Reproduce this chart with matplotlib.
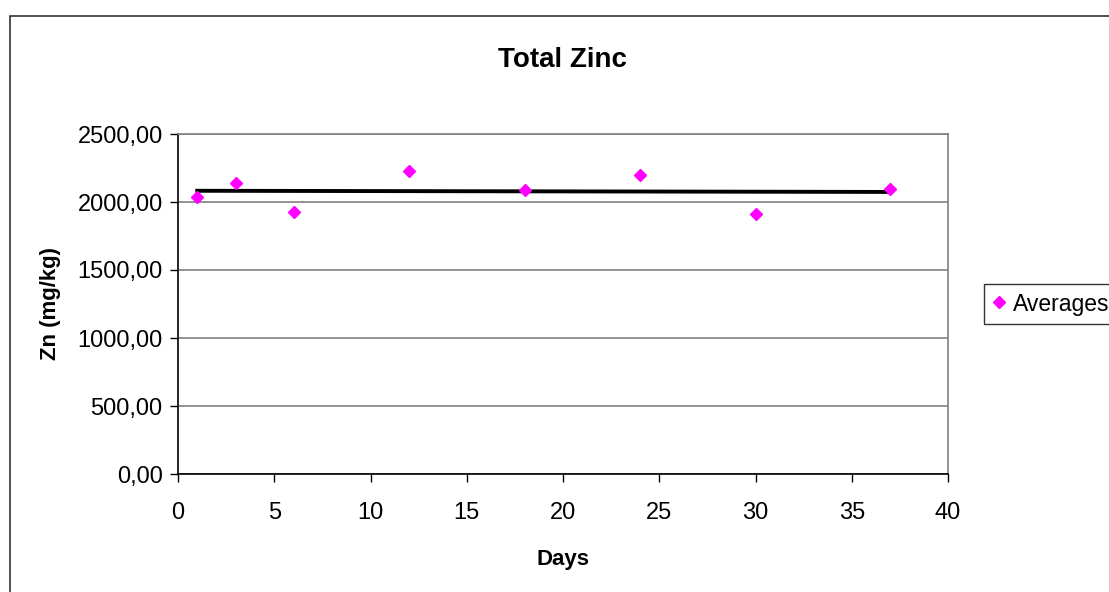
import numpy as np
import matplotlib
matplotlib.use('Agg')
from matplotlib import pyplot as plt
from matplotlib.patches import Rectangle
from matplotlib.ticker import FuncFormatter

plt.rcParams['font.family'] = ['Liberation Sans', 'DejaVu Sans']

# data
days = [1, 3, 6, 12, 18, 24, 30, 37]
averages = [2040, 2143, 1926, 2229, 2086, 2197, 1911, 2099]
x_ticks = [0, 5, 10, 15, 20, 25, 30, 35, 40]
y_ticks = [0, 500, 1000, 1500, 2000, 2500]

fig = plt.figure(figsize=(11.09, 5.92), dpi=100)
ax = fig.add_axes([178 / 1109, 1 - 474 / 592, 770 / 1109, 340 / 592])

# outer chart frame (cut off at right and bottom)
fig.patches.append(Rectangle((9.5 / 1109, -0.1), 1.2, 1.1 - 15.5 / 592,
                             transform=fig.transFigure, fill=False,
                             edgecolor='#333333', lw=1.2))

ax.plot(days, averages, linestyle='none', marker='D', markersize=6.5,
        color='#ff00ff', label='Averages', zorder=3)

# linear trend line
k, b = np.polyfit(days, averages, 1)
xs = np.array([days[0], days[-1]])
ax.plot(xs, k * xs + b, color='black', lw=2.8, zorder=2)

ax.set_xlim(0, 40)
ax.set_ylim(0, 2500)
ax.set_xticks(x_ticks)
ax.set_yticks(y_ticks)
ax.yaxis.set_major_formatter(FuncFormatter(lambda v, p: f'{v:.2f}'.replace('.', ',')))
ax.tick_params(direction='out', length=6, width=1, labelsize=17)
ax.tick_params(axis='x', pad=14)
ax.tick_params(axis='y', pad=5)
ax.grid(axis='y', color='#808080', lw=1.2)
ax.set_axisbelow(True)

for s in ['top', 'right']:
    ax.spines[s].set_color('#808080')
    ax.spines[s].set_linewidth(1.2)
for s in ['left', 'bottom']:
    ax.spines[s].set_color('black')
    ax.spines[s].set_linewidth(1.2)

ax.set_title('Total Zinc', fontsize=20, fontweight='bold', pad=48)
ax.set_xlabel('Days', fontsize=16, fontweight='bold', labelpad=18)
ax.set_ylabel('Zn (mg/kg)', fontsize=16, fontweight='bold', labelpad=12)

leg = fig.legend(loc='center left', bbox_to_anchor=(984 / 1109, 1 - 304 / 592),
                 fontsize=16.5, frameon=True, fancybox=False, handlelength=0.6,
                 handletextpad=0.3, borderpad=0.35, borderaxespad=0)
leg.get_frame().set_edgecolor('black')
leg.get_frame().set_linewidth(1)

fig.savefig('out.png', dpi=100)
